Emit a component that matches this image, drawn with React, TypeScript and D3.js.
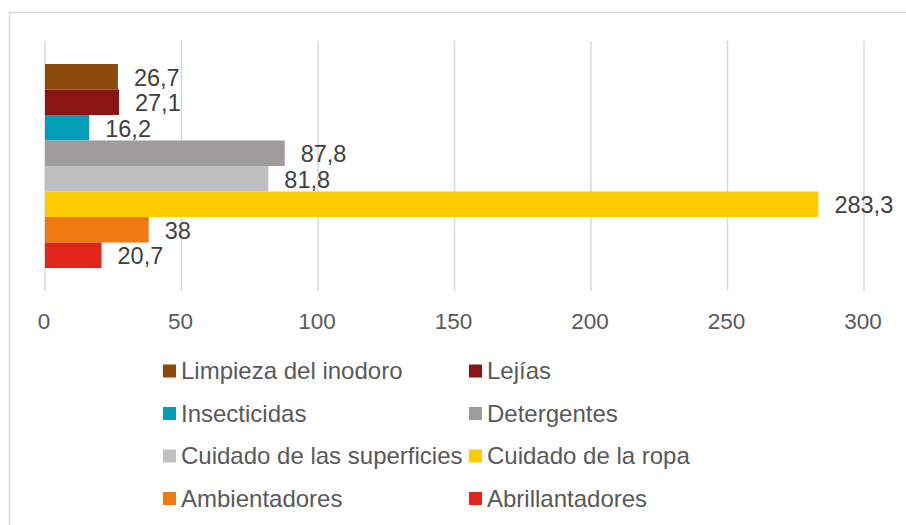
import React, { useRef, useEffect } from "react";
import * as d3 from "d3";

const series = [
  "Limpieza del inodoro",
  "Lejías",
  "Insecticidas",
  "Detergentes",
  "Cuidado de las superficies",
  "Cuidado de la ropa",
  "Ambientadores",
  "Abrillantadores",
];
const values = [26.7, 27.1, 16.2, 87.8, 81.8, 283.3, 38, 20.7];
const colors = [
  "#8B4A0A",
  "#8B1513",
  "#009EB8",
  "#9E9C9D",
  "#C0BFC0",
  "#FDCD00",
  "#EE7A11",
  "#E1251B",
];
const xTicks = [0, 50, 100, 150, 200, 250, 300];

const W = 906;
const H = 525;
const FONT = "'Liberation Sans', Arial, sans-serif";

const App = () => {
  const ref = useRef<SVGSVGElement>(null);

  useEffect(() => {
    const svg = d3.select(ref.current);
    svg.selectAll("*").remove();

    // chart border
    svg
      .append("rect")
      .attr("x", 9.5)
      .attr("y", 12.5)
      .attr("width", 1000)
      .attr("height", 1000)
      .attr("fill", "white")
      .attr("stroke", "#d9d9d9")
      .attr("stroke-width", 1.5);

    const x = d3.scaleLinear().domain([0, 300]).range([45, 864]);
    const y = d3.scaleBand().domain(series).range([64, 268]).padding(0);

    // gridlines
    svg
      .append("g")
      .selectAll("line")
      .data(xTicks)
      .enter()
      .append("line")
      .attr("x1", (d) => x(d))
      .attr("x2", (d) => x(d))
      .attr("y1", 41)
      .attr("y2", 291)
      .attr("stroke", "#d9d9d9")
      .attr("stroke-width", 1.5);

    // tick labels
    svg
      .append("g")
      .selectAll("text")
      .data(xTicks)
      .enter()
      .append("text")
      .attr("x", (d) => x(d) - 1)
      .attr("y", 329)
      .attr("text-anchor", "middle")
      .style("font-family", FONT)
      .style("font-size", "22.5px")
      .attr("fill", "#595959")
      .text((d) => d);

    // bars
    svg
      .append("g")
      .selectAll("rect")
      .data(series)
      .enter()
      .append("rect")
      .attr("x", x(0))
      .attr("y", (d) => y(d)!)
      .attr("width", (d, i) => x(values[i]) - x(0))
      .attr("height", y.bandwidth())
      .attr("fill", (d, i) => colors[i]);

    // data labels
    svg
      .append("g")
      .selectAll("text")
      .data(series)
      .enter()
      .append("text")
      .attr("x", (d, i) => x(values[i]) + 16)
      .attr("y", (d) => y(d)! + y.bandwidth() / 2 + 1)
      .attr("dy", "0.35em")
      .style("font-family", FONT)
      .style("font-size", "23.5px")
      .attr("fill", "#404040")
      .text((d, i) => String(values[i]).replace(".", ","));

    // legend
    const legend = svg
      .append("g")
      .selectAll("g")
      .data(series)
      .enter()
      .append("g")
      .attr(
        "transform",
        (d, i) => `translate(${i % 2 === 0 ? 163 : 469}, ${371 + Math.floor(i / 2) * 42.5})`
      );
    legend
      .append("rect")
      .attr("x", 0)
      .attr("y", -6.5)
      .attr("width", 13)
      .attr("height", 13)
      .attr("fill", (d, i) => colors[i]);
    legend
      .append("text")
      .attr("x", 18)
      .attr("y", 0)
      .attr("dy", "0.35em")
      .style("font-family", FONT)
      .style("font-size", "24px")
      .attr("fill", "#595959")
      .text((d) => d);
  }, []);

  return (
    <svg
      ref={ref}
      width={W}
      height={H}
      style={{ position: "absolute", left: 0, top: 0, background: "white" }}
    />
  );
};

export default App;
